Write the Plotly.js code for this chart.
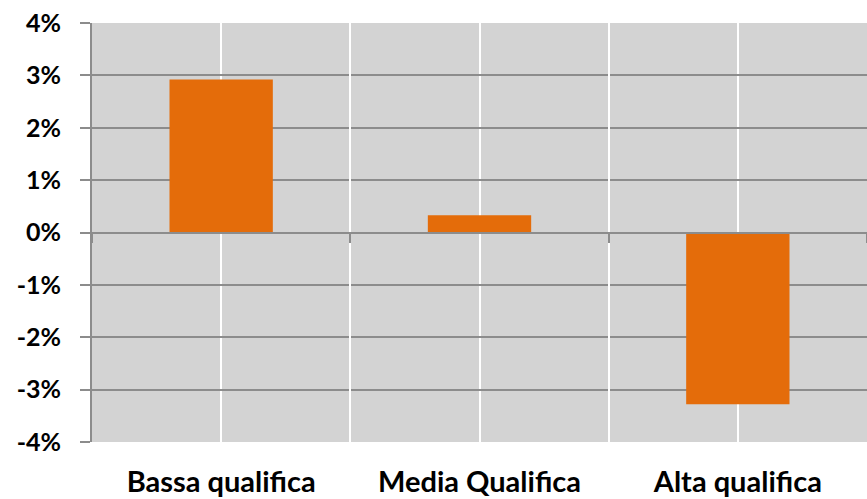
<!DOCTYPE html>
<html>
<head>
<meta charset="utf-8">
<script src="https://cdn.plot.ly/plotly-3.0.1.min.js"></script>
<style>html,body{margin:0;padding:0;background:#fff;}#chart{width:867px;height:499px;}</style>
</head>
<body>
<div id="chart"></div>
<script>
const categories = ['Bassa qualifica', 'Media Qualifica', 'Alta qualifica'];
const values = [0.0292, 0.0033, -0.0328];
const yTickValues = [-0.04, -0.03, -0.02, -0.01, 0, 0.01, 0.02, 0.03, 0.04];
const yTickLabels = ['-4%', '-3%', '-2%', '-1%', '0%', '1%', '2%', '3%', '4%'];

const xLabelFont = {family: 'Lato, "Open Sans", sans-serif', size: 29, color: '#000', weight: 'bold'};
const yLabelFont = {family: 'Lato, "Open Sans", sans-serif', size: 25, color: '#000', weight: 'bold'};

const traces = [
  {
    type: 'bar', x: categories, y: values, width: 0.4,
    marker: {color: '#E46C0A'}, hoverinfo: 'skip', xaxis: 'x', yaxis: 'y'
  },
  {
    type: 'scatter', mode: 'none', x: categories, y: values,
    xaxis: 'x2', yaxis: 'y', hoverinfo: 'skip', showlegend: false
  }
];

const layout = {
  width: 867, height: 499,
  margin: {l: 92, r: 0, t: 23, b: 57},
  paper_bgcolor: '#ffffff', plot_bgcolor: '#D3D3D3',
  showlegend: false,
  font: {family: 'Lato, "Open Sans", sans-serif', size: 22, color: '#000'},
  xaxis: {
    type: 'category', range: [-0.5, 2.5],
    showgrid: true, gridcolor: '#ffffff', gridwidth: 2,
    showline: false, zeroline: false, ticks: '',
    tickfont: xLabelFont,
    ticklabelstandoff: 20,
    layer: 'below traces'
  },
  xaxis2: {
    type: 'category', overlaying: 'x', anchor: 'free', position: 0.5,
    range: [-0.5, 2.5], tickson: 'boundaries',
    showgrid: true, gridcolor: '#ffffff', gridwidth: 2,
    showline: true, linecolor: '#8C8C8C', linewidth: 2,
    ticks: 'outside', ticklen: 9, tickwidth: 2, tickcolor: '#8C8C8C',
    showticklabels: false, zeroline: false
  },
  yaxis: {
    range: [-0.04, 0.04], tickvals: yTickValues, ticktext: yTickLabels,
    showgrid: true, gridcolor: '#8C8C8C', gridwidth: 2,
    showline: true, linecolor: '#8C8C8C', linewidth: 2,
    ticks: 'outside', ticklen: 10, tickwidth: 2, tickcolor: '#8C8C8C',
    zeroline: false,
    tickfont: yLabelFont,
    ticklabelstandoff: 14
  }
};

Plotly.newPlot('chart', traces, layout, {staticPlot: true, displayModeBar: false});
</script>
</body>
</html>
